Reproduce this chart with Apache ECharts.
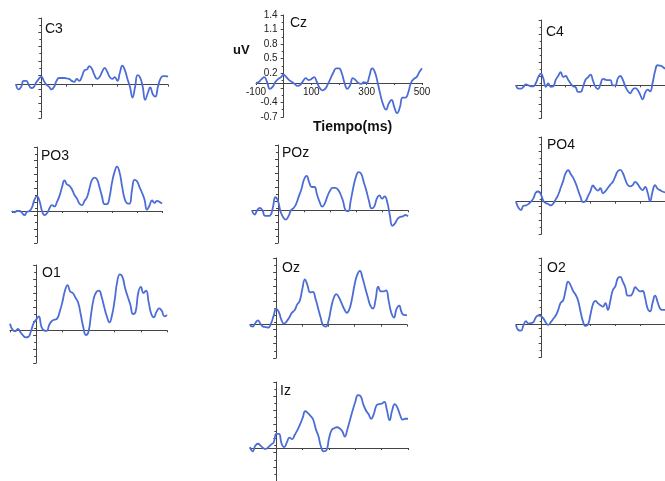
<!DOCTYPE html>
<html>
<head>
<meta charset="utf-8">
<script src="https://cdn.jsdelivr.net/npm/echarts@6/dist/echarts.min.js"></script>
<style>
html,body{margin:0;padding:0;background:#fff;}
#chart{width:665px;height:481px;}
</style>
</head>
<body>
<div id="chart"></div>
<script>
// time axis (ms)
const times = [-100,-90,-80,-70,-60,-50,-40,-30,-20,-10,0,10,20,30,40,50,60,70,80,90,100,110,120,130,140,150,160,170,180,190,200,210,220,230,240,250,260,270,280,290,300,310,320,330,340,350,360,370,380,390,400,410,420,430,440,450,460,470,480,490,500];

// amplitudes (uV)
const C3 = [0.01,-0.1,-0.05,0.08,0.08,0.0,-0.07,-0.05,0.05,0.12,0.17,0.08,0.0,-0.04,-0.1,-0.05,0.08,0.14,0.14,0.14,0.13,0.12,0.08,0.06,0.12,0.08,0.17,0.3,0.32,0.39,0.33,0.2,0.12,0.16,0.27,0.35,0.27,0.16,0.12,0.16,0.08,0.25,0.4,0.3,0.12,-0.05,-0.27,-0.05,0.2,0.15,-0.04,-0.32,-0.18,-0.06,-0.2,-0.25,-0.05,0.12,0.18,0.18,0.17];
const Cz = [0.0,0.02,0.08,0.12,0.02,-0.12,-0.08,0.02,0.08,0.12,0.17,0.12,0.06,0.02,-0.02,-0.06,-0.04,0.04,0.1,0.06,0.08,0.12,0.02,-0.1,-0.15,-0.12,-0.02,0.1,0.22,0.3,0.3,0.2,0.0,-0.12,-0.05,0.1,0.06,0.0,-0.02,0.02,0.0,0.15,0.3,0.22,0.0,-0.25,-0.45,-0.55,-0.42,-0.35,-0.5,-0.62,-0.5,-0.3,-0.3,-0.2,0.0,0.08,0.12,0.22,0.3];
const C4 = [0.0,-0.07,-0.07,-0.03,0.02,0.0,-0.02,-0.02,0.05,0.18,0.25,0.15,-0.03,0.04,-0.03,-0.02,0.12,0.2,0.28,0.18,0.2,0.12,0.04,-0.02,-0.04,-0.14,-0.14,-0.03,0.12,0.17,0.23,0.1,-0.03,-0.08,0.02,0.14,0.12,0.11,0.11,0.0,0.0,0.15,0.2,0.12,-0.02,-0.12,-0.17,-0.09,-0.06,-0.1,-0.2,-0.3,-0.16,-0.09,-0.13,0.05,0.3,0.43,0.42,0.4,0.35];
const PO3 = [0.0,-0.03,0.0,0.0,-0.04,-0.09,-0.02,0.0,0.08,0.25,0.32,0.22,0.0,-0.09,-0.05,0.06,0.13,0.1,0.2,0.33,0.52,0.67,0.58,0.55,0.47,0.35,0.27,0.16,0.13,0.22,0.3,0.5,0.68,0.73,0.69,0.52,0.32,0.15,0.15,0.3,0.62,0.85,0.97,0.85,0.55,0.28,0.17,0.16,0.46,0.68,0.65,0.52,0.4,0.25,0.03,0.12,0.23,0.18,0.22,0.2,0.16];
const POz = [0.0,-0.09,0.0,0.05,0.0,-0.12,-0.12,-0.11,0.05,0.28,0.2,-0.03,-0.15,-0.2,-0.13,0.0,0.05,0.14,0.3,0.45,0.66,0.74,0.6,0.5,0.5,0.34,0.18,0.08,0.15,0.3,0.42,0.48,0.48,0.45,0.35,0.2,0.0,-0.02,0.22,0.5,0.72,0.82,0.78,0.6,0.42,0.2,0.04,0.08,0.25,0.32,0.25,0.3,0.18,-0.1,-0.33,-0.28,-0.18,-0.14,-0.13,-0.1,-0.13];
const PO4 = [0.0,-0.13,-0.18,-0.09,-0.08,-0.05,0.0,0.07,0.2,0.22,0.16,0.02,-0.03,-0.05,-0.08,-0.04,0.05,0.15,0.3,0.45,0.62,0.68,0.6,0.52,0.4,0.25,0.1,-0.01,0.01,0.12,0.23,0.35,0.28,0.24,0.29,0.18,0.23,0.3,0.37,0.43,0.55,0.66,0.69,0.62,0.48,0.36,0.33,0.36,0.43,0.38,0.3,0.25,0.32,0.2,0.01,0.22,0.36,0.28,0.25,0.22,0.2];
const O1 = [0.14,0.01,-0.02,0.03,-0.04,-0.11,-0.15,-0.14,-0.02,0.15,0.23,0.3,0.08,0.0,-0.01,0.12,0.2,0.23,0.25,0.4,0.6,0.85,0.97,0.83,0.8,0.7,0.6,0.35,0.07,-0.1,-0.03,0.35,0.68,0.82,0.85,0.72,0.5,0.3,0.17,0.33,0.65,1.05,1.2,1.14,0.9,0.72,0.55,0.35,0.4,0.8,0.93,0.8,0.85,0.6,0.35,0.28,0.4,0.47,0.42,0.3,0.33];
const Oz = [0.0,-0.04,0.03,0.09,0.02,-0.04,-0.05,-0.06,0.02,0.18,0.33,0.27,0.1,0.02,0.07,0.15,0.25,0.3,0.42,0.5,0.75,0.95,0.82,0.68,0.69,0.55,0.35,0.15,-0.02,-0.04,0.08,0.35,0.56,0.64,0.57,0.45,0.33,0.25,0.33,0.55,0.85,1.05,1.13,0.98,0.78,0.58,0.4,0.34,0.53,0.8,0.7,0.7,0.72,0.5,0.25,0.15,0.33,0.4,0.25,0.2,0.2];
const O2 = [-0.02,-0.13,-0.14,-0.03,0.06,0.01,0.02,0.04,0.14,0.18,0.17,0.12,0.03,-0.02,0.04,0.11,0.18,0.3,0.45,0.5,0.72,0.9,0.82,0.7,0.62,0.5,0.26,0.05,-0.04,-0.01,0.2,0.42,0.49,0.44,0.4,0.37,0.44,0.3,0.5,0.72,0.8,0.97,1.0,0.9,0.78,0.6,0.6,0.66,0.78,0.73,0.69,0.7,0.55,0.33,0.27,0.45,0.6,0.47,0.33,0.3,0.3];
const Iz = [0.02,-0.07,0.05,0.09,0.05,0.0,-0.02,0.02,0.07,0.12,0.3,0.3,0.09,0.02,0.12,0.22,0.19,0.28,0.38,0.5,0.64,0.78,0.74,0.68,0.6,0.4,0.25,0.02,-0.07,-0.05,0.2,0.38,0.42,0.44,0.42,0.36,0.24,0.4,0.6,0.8,0.98,1.12,1.1,0.93,0.8,0.72,0.62,0.72,0.9,0.93,0.94,0.98,0.8,0.59,0.8,0.93,0.85,0.7,0.6,0.62,0.62];

// axis ranges / ticks
const yMin = -0.7, yMax = 1.4, yStep = 0.3;
const xMin = -100, xMax = 500, xStep = 100;
const xTickLabels = [-100,100,300,500];
const yHiddenLabels = [-0.1];

const channels = ['C3','Cz','C4','PO3','POz','PO4','O1','Oz','O2','Iz'];
const values = {C3,Cz,C4,PO3,POz,PO4,O1,Oz,O2,Iz};

// layout (pixels)
const layout = {
  C3:  {left:16,  top:18,  width:152, height:100, lx:45,  ly:22},
  Cz:  {left:256, top:15,  width:166, height:102, lx:290, ly:16},
  C4:  {left:516, top:20,  width:154, height:98,  lx:546, ly:25},
  PO3: {left:12,  top:147, width:150, height:96,  lx:41,  ly:149},
  POz: {left:252, top:145, width:156, height:98,  lx:282, ly:146},
  PO4: {left:516, top:137, width:154, height:97,  lx:547, ly:138},
  O1:  {left:10,  top:265, width:157, height:98,  lx:42,  ly:266},
  Oz:  {left:250, top:258, width:157, height:100, lx:282, ly:261},
  O2:  {left:516, top:258, width:154, height:99,  lx:547, ly:261},
  Iz:  {left:250, top:382, width:158, height:99,  lx:280, ly:384}
};

const axisCol = '#444';
const lineCol = '#4d6dd6';
const grids = [], xAxes = [], yAxes = [], series = [], graphics = [];

channels.forEach((ch, i) => {
  const L = layout[ch];
  const main = ch === 'Cz';
  // shift axes so they cross at (0 ms, 0 uV)
  const xOff = -L.height * (0 - yMin) / (yMax - yMin);
  const yOff = -L.width * (0 - xMin) / (xMax - xMin);
  grids.push({left:L.left, top:L.top, width:L.width, height:L.height, containLabel:false});
  xAxes.push({
    type:'value', gridIndex:i, min:xMin, max:xMax, interval:xStep, position:'bottom', offset:xOff,
    axisLine:{show:true, onZero:false, lineStyle:{color:axisCol, width:1}},
    axisTick:{show:true, length:2, inside:false, lineStyle:{color:axisCol}},
    splitLine:{show:false},
    axisLabel:{show:main, margin:4, fontSize:10, color:'#222', fontFamily:'Arial, Liberation Sans',
      formatter: v => xTickLabels.indexOf(Math.round(v)) >= 0 ? String(Math.round(v)) : ''}
  });
  yAxes.push({
    type:'value', gridIndex:i, min:yMin, max:yMax, interval:yStep, position:'left', offset:yOff,
    axisLine:{show:true, onZero:false, lineStyle:{color:axisCol, width:1}},
    axisTick:{show:true, length:3, lineStyle:{color:axisCol}},
    minorTick:{show:true, splitNumber:2, length:2, lineStyle:{color:axisCol}},
    splitLine:{show:false},
    axisLabel:{show:main, margin:6, fontSize:10, color:'#222', fontFamily:'Arial, Liberation Sans',
      formatter: v => { const r = Math.round(v*10)/10; return yHiddenLabels.some(h => Math.abs(h-r) < 1e-6) ? '' : r.toFixed(1); }}
  });
  series.push({
    type:'line', xAxisIndex:i, yAxisIndex:i, smooth:0.5, showSymbol:false, silent:true,
    lineStyle:{color:lineCol, width:1.8},
    data: times.map((t, k) => [t, values[ch][k]])
  });
  graphics.push({type:'text', left:L.lx, top:L.ly, style:{text:ch, font:'14px Arial, "Liberation Sans"', fill:'#111'}});
});

graphics.push({type:'text', left:233, top:44, style:{text:'uV', font:'bold 13px Arial, "Liberation Sans"', fill:'#111'}});
graphics.push({type:'text', left:313, top:120, style:{text:'Tiempo(ms)', font:'bold 14px Arial, "Liberation Sans"', fill:'#111'}});

const chart = echarts.init(document.getElementById('chart'), null, {renderer:'canvas'});
chart.setOption({
  animation:false,
  backgroundColor:'#fff',
  grid:grids, xAxis:xAxes, yAxis:yAxes, series:series, graphic:graphics
});
</script>
</body>
</html>
